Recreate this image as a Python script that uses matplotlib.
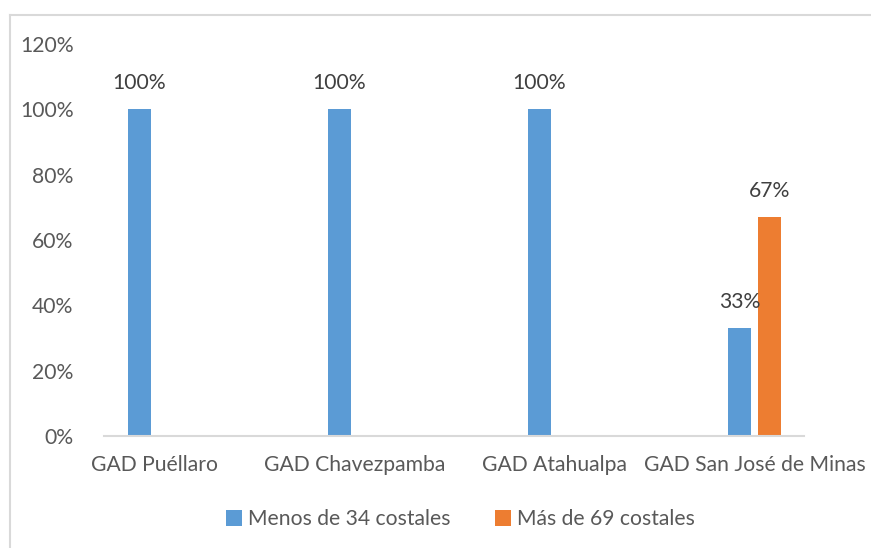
import matplotlib
matplotlib.use('Agg')
import matplotlib.pyplot as plt
from matplotlib.lines import Line2D
import numpy as np

categories = ['GAD Puéllaro', 'GAD Chavezpamba', 'GAD Atahualpa', 'GAD San José de Minas']
menos_34 = [1.00, 1.00, 1.00, 0.33]
mas_69 = [0.00, 0.00, 0.00, 0.67]
series_names = ['Menos de 34 costales', 'Más de 69 costales']
y_ticks = [0, 0.2, 0.4, 0.6, 0.8, 1.0, 1.2]

BLUE = '#5b9bd5'
ORANGE = '#ed7d31'
TICK = '#595959'
LABEL = '#404040'
AXIS = '#d9d9d9'
FS = 15.2

plt.rcParams['font.family'] = ['Lato', 'DejaVu Sans']

W, H = 871, 548
fig = plt.figure(figsize=(W / 100, H / 100), dpi=100, facecolor='white')

# axes placed in pixel terms of the reference
left, right, bottom, top = 104, 855, 436, 44
ax = fig.add_axes([left / W, 1 - bottom / H, (right - left) / W, (bottom - top) / H])

x = np.arange(len(categories))
bw = 0.115
off = 0.075
b1 = ax.bar(x - off, menos_34, bw, color=BLUE, label=series_names[0], zorder=2)
b2 = ax.bar(x + off, mas_69, bw, color=ORANGE, label=series_names[1], zorder=2)

for bars, vals in ((b1, menos_34), (b2, mas_69)):
    for rect, v in zip(bars, vals):
        if v == 0:
            continue
        ax.annotate(f'{v:.0%}', (rect.get_x() + rect.get_width() / 2, v),
                    xytext=(0, 11.5), textcoords='offset points',
                    ha='center', va='bottom', fontsize=FS, color=LABEL)

ax.set_xlim(-0.25, 3.5)
ax.set_ylim(0, 1.2)
ax.set_yticks(y_ticks)
ax.set_yticklabels([f'{int(round(t * 100))}%' for t in y_ticks])
ax.set_xticks(x)
ax.set_xticklabels(categories)
ax.tick_params(axis='y', length=0, pad=22, labelsize=FS, labelcolor=TICK)
ax.tick_params(axis='x', length=0, pad=14, labelsize=FS, labelcolor=TICK)

for s in ('top', 'right', 'left'):
    ax.spines[s].set_visible(False)
ax.spines['bottom'].set_color(AXIS)
ax.spines['bottom'].set_linewidth(1.5)
ax.spines['bottom'].set_bounds(-0.25, 3.245)

ax.legend(loc='center', bbox_to_anchor=(0.4745, -0.213), ncol=2, frameon=False,
          fontsize=FS, labelcolor=TICK, handlelength=0.75, handleheight=0.75,
          handletextpad=0.3, columnspacing=2.1)

# chart border (only top and left visible in the reference)
fig.add_artist(Line2D([10 / W, 1], [1 - 15 / H, 1 - 15 / H], color=AXIS, lw=1.5))
fig.add_artist(Line2D([10 / W, 10 / W], [0, 1 - 15 / H], color=AXIS, lw=1.5))

fig.savefig('out.png', dpi=100, facecolor='white')
